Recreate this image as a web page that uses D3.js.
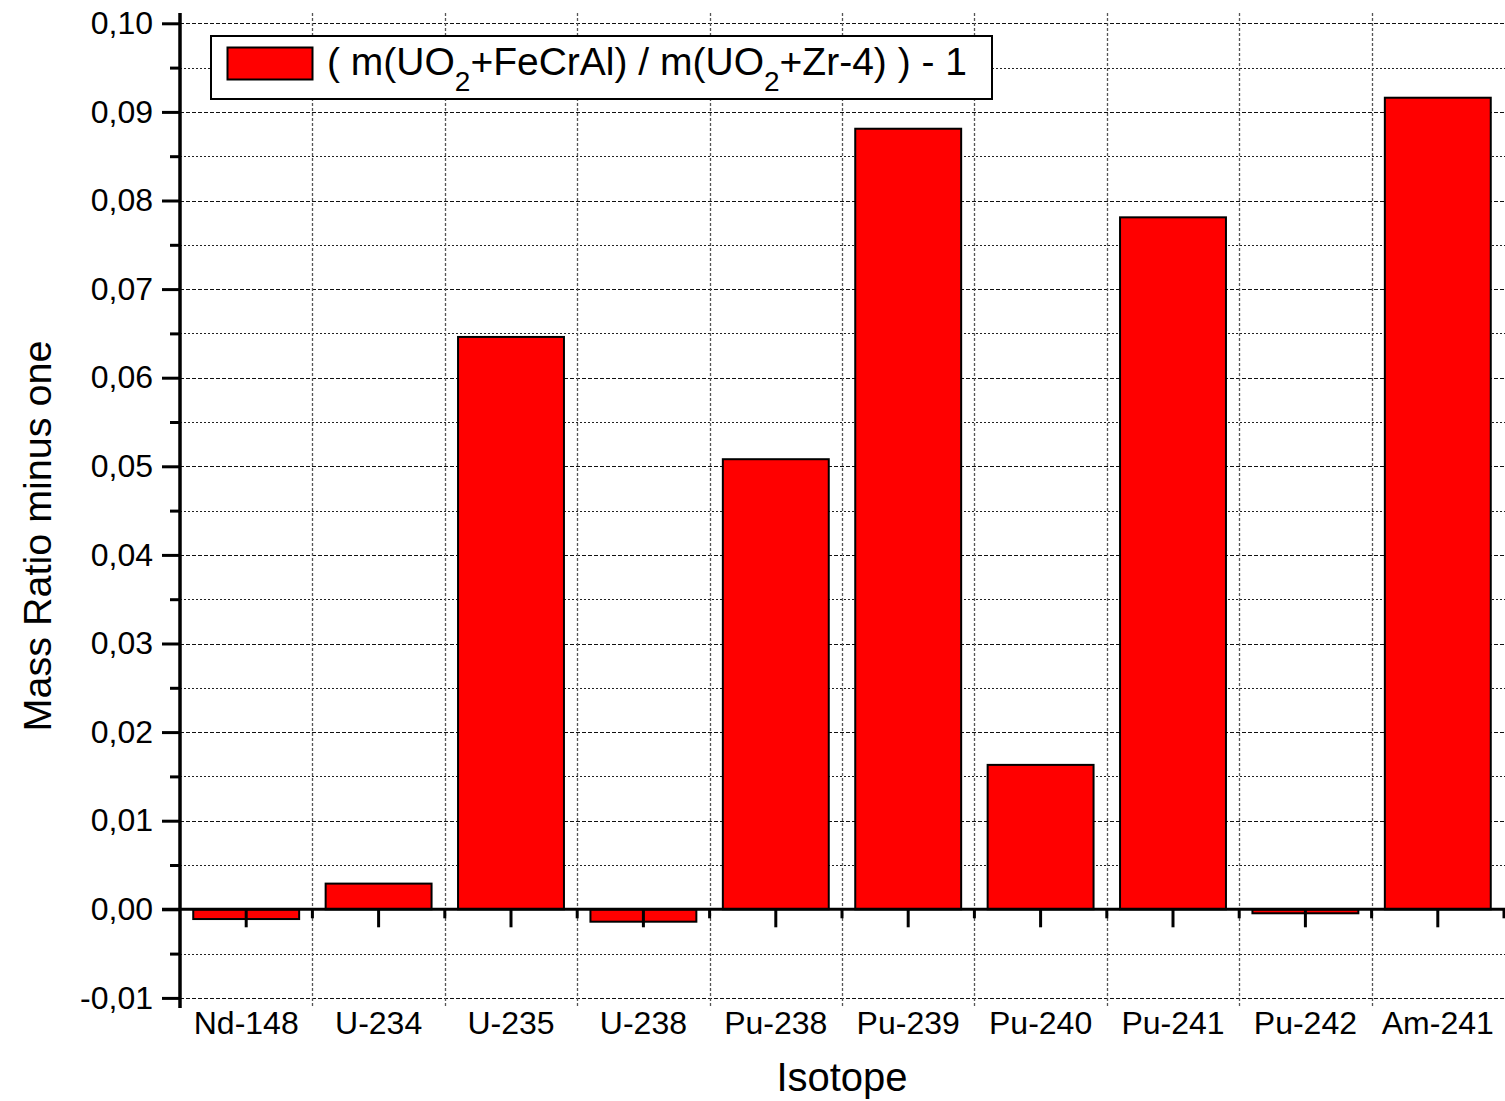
<!DOCTYPE html>
<html>
<head>
<meta charset="utf-8">
<script src="https://cdn.jsdelivr.net/npm/d3@7"></script>
<style>
  html, body { margin: 0; padding: 0; background: #fff; }
  svg { display: block; font-family: "Liberation Sans", Arial, sans-serif; }
</style>
</head>
<body>
<svg id="chart" width="1505" height="1101"></svg>
<script>
const categories = ["Nd-148", "U-234", "U-235", "U-238", "Pu-238", "Pu-239", "Pu-240", "Pu-241", "Pu-242", "Am-241"];
const values = [-0.0011, 0.0029, 0.0646, -0.0014, 0.0508, 0.0881, 0.0163, 0.0781, -0.00045, 0.0916];
const yMajorTicks = [-0.01, 0.00, 0.01, 0.02, 0.03, 0.04, 0.05, 0.06, 0.07, 0.08, 0.09, 0.10];
const yMinorTicks = [-0.005, 0.005, 0.015, 0.025, 0.035, 0.045, 0.055, 0.065, 0.075, 0.085, 0.095];
const xLabel = "Isotope";
const yLabel = "Mass Ratio minus one";

const svg = d3.select("#chart");
const L = 180, R = 1504;
const y = d3.scaleLinear().domain([-0.01, 0.10]).range([997.9, 23.3]);
const x = d3.scaleBand().domain(categories).range([L, R]).padding(0);
const bw = x.bandwidth();
const yTop = 13, yBot = 1008;
const fmt = v => d3.format(".2f")(v).replace("\u2212", "-").replace(".", ",").replace("-0,00", "0,00");

// grid: minor horizontal dotted
svg.append("g").selectAll("line").data(yMinorTicks).join("line")
  .attr("x1", L).attr("x2", 1505)
  .attr("y1", d => Math.round(y(d)) + 0.5).attr("y2", d => Math.round(y(d)) + 0.5)
  .attr("stroke", "#222").attr("stroke-width", 1).attr("stroke-dasharray", "2,2");
// grid: major horizontal dashed
svg.append("g").selectAll("line").data(yMajorTicks.filter(d => d !== 0)).join("line")
  .attr("x1", L).attr("x2", 1505)
  .attr("y1", d => Math.round(y(d)) + 0.5).attr("y2", d => Math.round(y(d)) + 0.5)
  .attr("stroke", "#111").attr("stroke-width", 1).attr("stroke-dasharray", "4,2");
// grid: vertical at category boundaries
const bounds = categories.slice(1).map(c => x(c));
svg.append("g").selectAll("line").data(bounds).join("line")
  .attr("x1", d => Math.round(d) + 0.5).attr("x2", d => Math.round(d) + 0.5)
  .attr("y1", yTop).attr("y2", yBot)
  .attr("stroke", "#555").attr("stroke-width", 1.3).attr("stroke-dasharray", "3,2");

// bars
const barW = bw * 0.8;
svg.append("g").selectAll("rect").data(values).join("rect")
  .attr("x", (d, i) => x(categories[i]) + (bw - barW) / 2)
  .attr("width", barW)
  .attr("y", d => Math.min(y(d), y(0)))
  .attr("height", d => Math.abs(y(d) - y(0)))
  .attr("fill", "#ff0000").attr("stroke", "#000").attr("stroke-width", 2);

// y axis
const yAxisMajor = d3.axisLeft(y).tickValues(yMajorTicks).tickSize(18).tickFormat(fmt).tickPadding(9);
const gy = svg.append("g").attr("transform", `translate(${L},0)`).call(yAxisMajor);
gy.select(".domain").remove();
gy.selectAll(".tick line").attr("stroke", "#000").attr("stroke-width", 3);
gy.selectAll(".tick text").attr("font-size", 32).attr("fill", "#000")
  .attr("font-family", "Liberation Sans, Arial, sans-serif");
const yAxisMinor = d3.axisLeft(y).tickValues(yMinorTicks).tickSize(10).tickFormat("");
const gym = svg.append("g").attr("transform", `translate(${L},0)`).call(yAxisMinor);
gym.select(".domain").remove();
gym.selectAll(".tick line").attr("stroke", "#000").attr("stroke-width", 3);
svg.append("line").attr("x1", L).attr("x2", L).attr("y1", yTop).attr("y2", yBot)
  .attr("stroke", "#000").attr("stroke-width", 3.5);

// x axis at zero
const xc = d3.scaleOrdinal().domain(categories).range(categories.map(c => x(c) + bw / 2));
const xAxis = d3.axisBottom(x).tickSize(18).tickFormat("");
const gx = svg.append("g").attr("transform", `translate(0,${y(0)})`).call(xAxis);
gx.select(".domain").remove();
gx.selectAll(".tick line").attr("stroke", "#000").attr("stroke-width", 3);
svg.append("g").selectAll("line").data(bounds.concat([R])).join("line")
  .attr("x1", d => d).attr("x2", d => d)
  .attr("y1", y(0)).attr("y2", y(0) + 9)
  .attr("stroke", "#000").attr("stroke-width", 3);
svg.append("line").attr("x1", 162).attr("x2", 1505).attr("y1", y(0)).attr("y2", y(0))
  .attr("stroke", "#000").attr("stroke-width", 3);

// x labels
svg.append("g").selectAll("text").data(categories).join("text")
  .attr("x", d => xc(d)).attr("y", 1034)
  .attr("text-anchor", "middle").attr("font-size", 32).attr("fill", "#000")
  .text(d => d);

// axis titles
svg.append("text").attr("x", (L + R) / 2).attr("y", 1091)
  .attr("text-anchor", "middle").attr("font-size", 40).attr("fill", "#000").text(xLabel);
svg.append("text").attr("transform", "translate(51,536) rotate(-90)")
  .attr("text-anchor", "middle").attr("font-size", 39.5).attr("fill", "#000").text(yLabel);

// legend
const lg = svg.append("g");
lg.append("rect").attr("x", 211).attr("y", 36).attr("width", 781).attr("height", 63)
  .attr("fill", "#fff").attr("stroke", "#000").attr("stroke-width", 2);
lg.append("rect").attr("x", 227.5).attr("y", 47.5).attr("width", 85).attr("height", 32)
  .attr("fill", "#ff0000").attr("stroke", "#000").attr("stroke-width", 2);
const lt = lg.append("text").attr("x", 327).attr("y", 75).attr("font-size", 39).attr("fill", "#000");
lt.append("tspan").text("( m(UO");
lt.append("tspan").attr("font-size", 28).attr("dy", 16).text("2");
lt.append("tspan").attr("dy", -16).text("+FeCrAl) / m(UO");
lt.append("tspan").attr("font-size", 28).attr("dy", 16).text("2");
lt.append("tspan").attr("dy", -16).text("+Zr-4) ) - 1");
</script>
</body>
</html>
